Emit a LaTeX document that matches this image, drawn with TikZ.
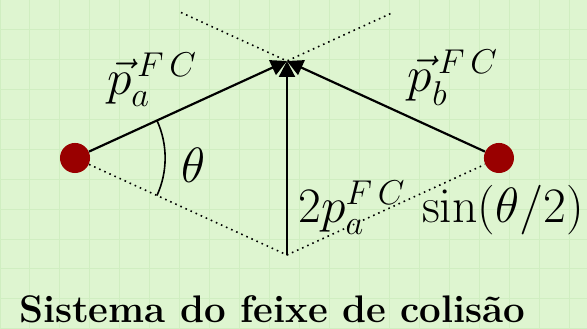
\documentclass[tikz,border=0pt]{standalone}
\usepackage{tikz}
\usetikzlibrary{arrows.meta,calc}
\usepackage{amsmath}
\definecolor{PaperGreen}{RGB}{222,245,208}
\definecolor{GridGreen}{RGB}{208,238,193}
\definecolor{DotRed}{RGB}{153,0,0}

\begin{document}
\begin{tikzpicture}[
  particle/.style={circle,fill=DotRed,minimum size=0.53cm,inner sep=0pt},
  momentum/.style={-{Triangle[length=8pt,width=8pt]},line width=1.1pt},
  guide/.style={dotted,line width=0.8pt},
  lbl/.style={font=\fontsize{24}{28}\selectfont,inner sep=0pt},
]
\useasboundingbox (0,0) rectangle (10.354,5.803);
\fill[PaperGreen] (0,0) rectangle (10.354,5.803);
\draw[GridGreen,line width=0.5pt,step=0.529] (0,0) grid (10.354,5.803);
% particles and the two meeting points
\node[particle] (pa) at (1.323,3.016) {};
\node[particle] (pb) at (8.801,3.016) {};
\coordinate (tip) at (5.062,4.727);
\coordinate (base) at (5.062,1.305);
\coordinate (exta) at ($(tip)!-0.5!(pb)$);
\coordinate (extb) at ($(tip)!-0.5!(pa)$);
% dotted construction lines
\draw[guide] (pa) -- (base) -- (pb);
\draw[guide] (exta) -- (tip) -- (extb);
% momenta
\draw[momentum] (pa) -- (tip);
\draw[momentum] (pb) -- (tip);
\draw[momentum] (base) -- (tip);
\draw[line width=0.8pt] (pa.center) ++(24.6:1.59) arc[start angle=24.6,end angle=-24.6,radius=1.59];
% labels
\node[lbl] (lpa) at (2.681,4.392) {$\vec{p}_a^{\,F\,C}$};
\node[lbl] (lpb) at (7.990,4.427) {$\vec{p}_b^{\,F\,C}$};
\node[lbl] (lth) at (3.404,2.893) {$\theta$};
\node[lbl] (lsum) at (7.78,2.134) {$2p_a^{F\,C}\,\sin(\theta/2)$};
\node[font=\fontsize{19.3}{23}\selectfont,inner sep=0pt,anchor=base] (title) at (4.80,0.106) {\textbf{Sistema do feixe de colisão}};
\end{tikzpicture}
\end{document}
